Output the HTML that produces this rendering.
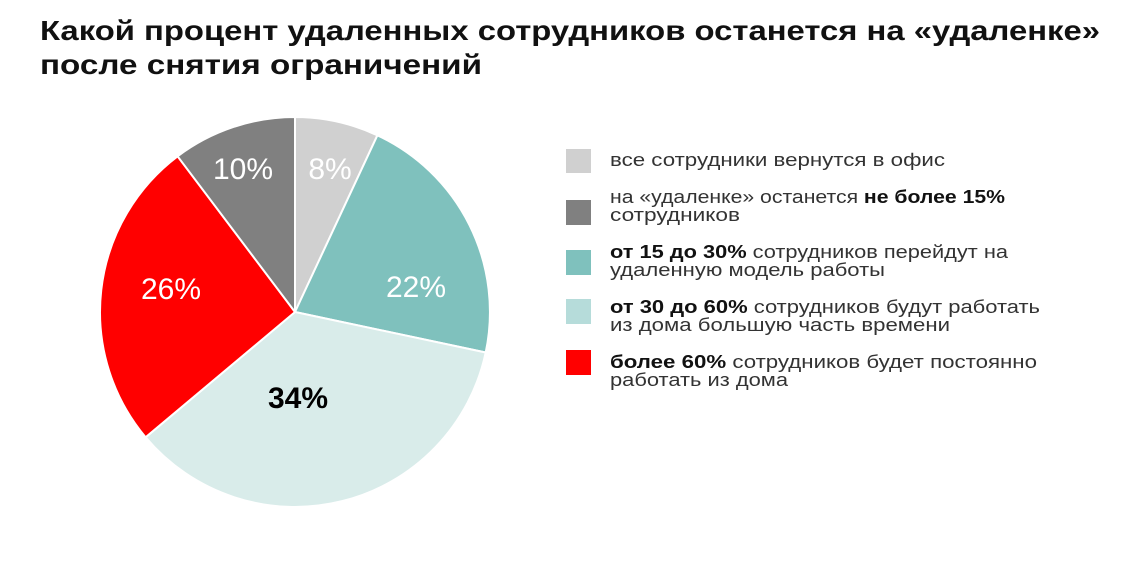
<!DOCTYPE html>
<html><head><meta charset="utf-8"><style>
html,body{margin:0;padding:0;background:#fff;}
svg{display:block;font-family:"Liberation Sans",sans-serif;}
</style></head><body>
<svg width="1145" height="572" viewBox="0 0 1145 572">
<text x="40" y="40" font-size="28" font-weight="bold" fill="#111" textLength="1060" lengthAdjust="spacingAndGlyphs">Какой процент удаленных сотрудников останется на «удаленке»</text>
<text x="40" y="74" font-size="28" font-weight="bold" fill="#111" textLength="442" lengthAdjust="spacingAndGlyphs">после снятия ограничений</text>
<g stroke="#fff" stroke-width="2" stroke-linejoin="round">
<path d="M295,312 L295,117 A195,195 0 0 1 377.4,135.3 Z" fill="#d0d0d0"/>
<path d="M295,312 L377.4,135.3 A195,195 0 0 1 485.7,352.5 Z" fill="#7fc1bd"/>
<path d="M295,312 L485.7,352.5 A195,195 0 0 1 145.6,437.3 Z" fill="#d9ecea"/>
<path d="M295,312 L145.6,437.3 A195,195 0 0 1 177.6,156.3 Z" fill="#ff0000"/>
<path d="M295,312 L177.6,156.3 A195,195 0 0 1 295,117 Z" fill="#808080"/>
</g>
<g fill="#fff" font-size="30" text-anchor="middle">
<text x="330" y="179">8%</text>
<text x="243" y="179">10%</text>
<text x="416" y="297">22%</text>
<text x="171" y="299">26%</text>
</g>
<text x="298" y="408" font-size="30" font-weight="bold" fill="#000" text-anchor="middle">34%</text>
<rect x="566" y="149" width="25" height="24" fill="#d0d0d0"/>
<rect x="566" y="200" width="25" height="25" fill="#808080"/>
<rect x="566" y="250" width="25" height="25" fill="#7fc1bd"/>
<rect x="566" y="299" width="25" height="25" fill="#b6dcda"/>
<rect x="566" y="350" width="25" height="25" fill="#ff0000"/>
<g font-size="18" fill="#333">
<text x="610" y="166" textLength="335" lengthAdjust="spacingAndGlyphs">все сотрудники вернутся в офис</text>
<text x="610" y="203" textLength="395" lengthAdjust="spacingAndGlyphs">на «удаленке» останется <tspan font-weight="bold" fill="#111">не более 15%</tspan></text>
<text x="610" y="221" textLength="130" lengthAdjust="spacingAndGlyphs">сотрудников</text>
<text x="610" y="258" textLength="398" lengthAdjust="spacingAndGlyphs"><tspan font-weight="bold" fill="#111">от 15 до 30%</tspan> сотрудников перейдут на</text>
<text x="610" y="276" textLength="275" lengthAdjust="spacingAndGlyphs">удаленную модель работы</text>
<text x="610" y="313" textLength="430" lengthAdjust="spacingAndGlyphs"><tspan font-weight="bold" fill="#111">от 30 до 60%</tspan> сотрудников будут работать</text>
<text x="610" y="331" textLength="340" lengthAdjust="spacingAndGlyphs">из дома большую часть времени</text>
<text x="610" y="368" textLength="427" lengthAdjust="spacingAndGlyphs"><tspan font-weight="bold" fill="#111">более 60%</tspan> сотрудников будет постоянно</text>
<text x="610" y="386" textLength="178" lengthAdjust="spacingAndGlyphs">работать из дома</text>
</g>
</svg>
</body></html>
